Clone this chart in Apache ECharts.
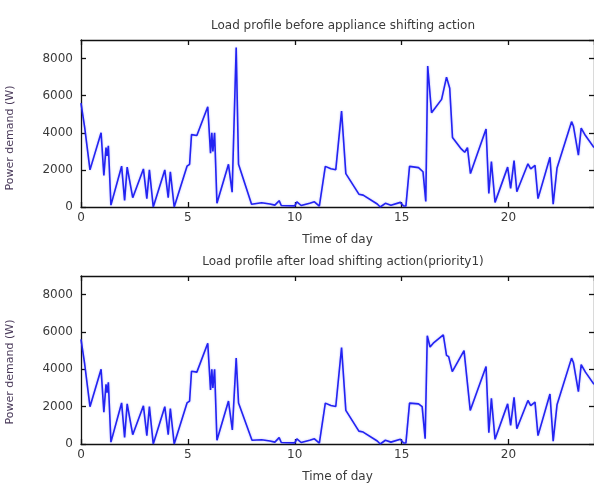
<!DOCTYPE html>
<html>
<head>
<meta charset="utf-8">
<script src="https://cdn.jsdelivr.net/npm/echarts@6/dist/echarts.min.js"></script>
<style>
  html, body { margin: 0; padding: 0; background: #fff; }
  #chart { width: 594px; height: 486px; }
</style>
</head>
<body>
<div id="chart"></div>
<script>
// Household load profile (W) against hour of day, before and after shifting.
var timeBefore = [0, 0.17, 0.42, 0.94, 1.07, 1.17, 1.22, 1.28, 1.4, 1.9, 2.04, 2.16, 2.42, 2.92, 3.08, 3.2, 3.38, 3.92, 4.08, 4.18, 4.36, 4.96, 5.08, 5.17, 5.42, 5.93, 6.06, 6.12, 6.17, 6.25, 6.36, 6.9, 7.07, 7.26, 7.37, 7.98, 8.45, 8.84, 9.07, 9.27, 9.37, 10.0, 10.1, 10.3, 10.7, 10.92, 11.15, 11.43, 11.69, 11.92, 12.19, 12.39, 13.0, 13.2, 13.86, 14.0, 14.24, 14.5, 14.94, 15.09, 15.2, 15.37, 15.79, 16.0, 16.13, 16.22, 16.4, 16.87, 17.1, 17.25, 17.38, 17.79, 17.95, 18.08, 18.22, 18.95, 19.08, 19.2, 19.37, 19.96, 20.1, 20.26, 20.39, 20.91, 21.04, 21.24, 21.38, 21.94, 22.09, 22.27, 22.95, 23.04, 23.27, 23.4, 23.6, 24];
var loadBefore = [5600, 4300, 2000, 4000, 1700, 3200, 2750, 3300, 100, 2200, 350, 2150, 500, 2050, 450, 2000, 0, 2000, 500, 1900, 0, 2200, 2300, 3900, 3850, 5400, 2900, 4000, 3000, 4000, 200, 2300, 800, 8600, 2300, 150, 230, 160, 100, 340, 80, 60, 280, 80, 200, 280, 50, 2190, 2060, 2010, 5170, 1800, 690, 640, 160, 0, 200, 100, 250, 50, 50, 2190, 2120, 1900, 300, 7600, 5080, 5800, 7000, 6400, 3750, 3130, 2950, 3200, 1800, 4200, 730, 2450, 250, 2150, 1000, 2500, 820, 2330, 2060, 2240, 450, 2680, 150, 2100, 4600, 4350, 2800, 4250, 3850, 3200];

var timeAfter = [0, 0.17, 0.42, 0.94, 1.07, 1.17, 1.22, 1.28, 1.4, 1.9, 2.04, 2.16, 2.42, 2.92, 3.08, 3.2, 3.38, 3.92, 4.08, 4.18, 4.36, 4.96, 5.08, 5.17, 5.42, 5.93, 6.06, 6.12, 6.17, 6.25, 6.36, 6.9, 7.08, 7.26, 7.37, 8.0, 8.45, 8.84, 9.07, 9.27, 9.37, 10.0, 10.1, 10.3, 10.7, 10.92, 11.15, 11.43, 11.69, 11.92, 12.19, 12.39, 13.0, 13.2, 13.86, 14.0, 14.24, 14.5, 14.94, 15.09, 15.2, 15.37, 15.79, 15.96, 16.1, 16.2, 16.33, 16.48, 16.95, 17.1, 17.2, 17.37, 17.92, 18.21, 18.95, 19.08, 19.2, 19.37, 19.96, 20.1, 20.26, 20.39, 20.91, 21.04, 21.24, 21.38, 21.94, 22.09, 22.27, 22.95, 23.04, 23.27, 23.4, 23.6, 24];
var loadAfter = [5600, 4300, 2000, 4000, 1700, 3200, 2750, 3300, 100, 2200, 350, 2150, 500, 2050, 450, 2000, 0, 2000, 500, 1900, 0, 2200, 2300, 3900, 3850, 5400, 2900, 4000, 3000, 4000, 200, 2300, 750, 4600, 2200, 200, 230, 160, 100, 340, 80, 60, 280, 80, 200, 280, 50, 2190, 2060, 2010, 5170, 1800, 690, 640, 160, 0, 200, 100, 250, 50, 50, 2190, 2150, 2000, 280, 5800, 5200, 5400, 5850, 4750, 4680, 3880, 5000, 1800, 4150, 600, 2450, 250, 2150, 1000, 2500, 820, 2330, 2060, 2240, 450, 2680, 150, 2100, 4600, 4350, 2800, 4250, 3850, 3200];

var xTicks = { min: 0, max: 24, interval: 5 };
var yTicks = { min: 0, max: 9000, interval: 2000 };

var titles = ['Load profile before appliance shifting action', 'Load profile after load shifting action(priority1)'];
var xName = 'Time of day';
var yName = 'Power demand (W)';

function pairs(t, v) {
  return t.map(function (h, i) { return [h, v[i]]; });
}
function plain(v) { return String(v); }

var FONT = 'DejaVu Sans';
var TEXT = '#3a3a3a';
var AXIS = '#111';

var grids = [
  { left: 81, top: 40, width: 517, height: 167 },
  { left: 81, top: 276, width: 517, height: 168 }
];

var xAxes = [], yAxes = [], series = [];
grids.forEach(function (g, i) {
  // bottom axis with labels
  xAxes.push({
    type: 'value', gridIndex: i, position: 'bottom',
    min: xTicks.min, max: xTicks.max, interval: xTicks.interval,
    name: xName, nameLocation: 'middle', nameGap: 27,
    nameTextStyle: { fontFamily: FONT, fontSize: 12, color: TEXT },
    axisLine: { show: true, onZero: false, lineStyle: { color: AXIS, width: 1.3 } },
    axisTick: { show: true, inside: true, length: 5, lineStyle: { color: AXIS, width: 1.3 } },
    axisLabel: { show: true, margin: 5, showMaxLabel: false, formatter: plain, fontFamily: FONT, fontSize: 12, color: TEXT },
    splitLine: { show: false }
  });
  // top frame edge with inward ticks
  xAxes.push({
    type: 'value', gridIndex: i, position: 'top',
    min: xTicks.min, max: xTicks.max, interval: xTicks.interval,
    axisLine: { show: true, onZero: false, lineStyle: { color: AXIS, width: 1.3 } },
    axisTick: { show: true, inside: true, length: 5, lineStyle: { color: AXIS, width: 1.3 } },
    axisLabel: { show: false },
    splitLine: { show: false }
  });
  yAxes.push({
    type: 'value', gridIndex: i, position: 'left',
    min: yTicks.min, max: yTicks.max, interval: yTicks.interval,
    axisLine: { show: true, onZero: false, lineStyle: { color: AXIS, width: 1.3 } },
    axisTick: { show: true, inside: true, length: 5, lineStyle: { color: AXIS, width: 1.3 } },
    axisLabel: { show: true, margin: 8, showMaxLabel: false, formatter: plain, fontFamily: FONT, fontSize: 12, color: TEXT },
    splitLine: { show: false }
  });
  yAxes.push({
    type: 'value', gridIndex: i, position: 'right',
    min: yTicks.min, max: yTicks.max, interval: yTicks.interval,
    axisLine: { show: true, onZero: false, lineStyle: { color: AXIS, width: 1.3 } },
    axisTick: { show: true, inside: true, length: 5, lineStyle: { color: AXIS, width: 1.3 } },
    axisLabel: { show: false },
    splitLine: { show: false }
  });
});

var lineStyle = { color: '#2323f2', width: 1.6, shadowBlur: 2, shadowColor: 'rgba(40,40,255,0.35)' };
series.push({
  type: 'line', xAxisIndex: 0, yAxisIndex: 0,
  data: pairs(timeBefore, loadBefore),
  showSymbol: false, lineStyle: lineStyle, silent: true
});
series.push({
  type: 'line', xAxisIndex: 2, yAxisIndex: 2,
  data: pairs(timeAfter, loadAfter),
  showSymbol: false, lineStyle: lineStyle, silent: true
});

var chart = echarts.init(document.getElementById('chart'), null, { renderer: 'canvas' });
chart.setOption({
  animation: false,
  backgroundColor: '#fff',
  title: [
    { text: titles[0], left: 338, top: 15, textAlign: 'center',
      textStyle: { fontFamily: FONT, fontSize: 12, fontWeight: 'normal', color: TEXT } },
    { text: titles[1], left: 338, top: 251, textAlign: 'center',
      textStyle: { fontFamily: FONT, fontSize: 12, fontWeight: 'normal', color: TEXT } }
  ],
  grid: grids,
  xAxis: xAxes,
  yAxis: yAxes,
  series: series,
  graphic: [
    { type: 'text', x: 10, y: 138, rotation: Math.PI / 2,
      style: { text: yName, font: '11px "' + FONT + '"', fill: '#4a3a5a', align: 'center', verticalAlign: 'middle' } },
    { type: 'text', x: 10, y: 372, rotation: Math.PI / 2,
      style: { text: yName, font: '11px "' + FONT + '"', fill: '#4a3a5a', align: 'center', verticalAlign: 'middle' } }
  ]
});
</script>
</body>
</html>
